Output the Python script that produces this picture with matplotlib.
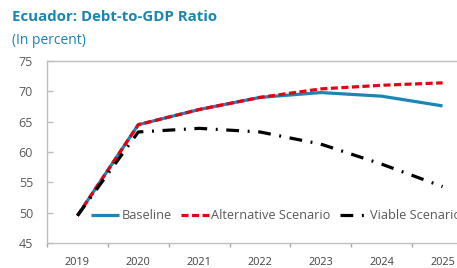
import matplotlib
matplotlib.use("Agg")
import matplotlib.pyplot as plt
import numpy as np

years = ["2019", "2020", "2021", "2022", "2023", "2024", "2025"]
baseline = [49.5, 64.5, 67.0, 69.0, 69.8, 69.2, 67.6]
alternative = [49.5, 64.5, 67.0, 69.0, 70.4, 71.0, 71.4]
viable = [49.5, 63.3, 63.9, 63.3, 61.3, 58.0, 54.3]
yticks = [45, 50, 55, 60, 65, 70, 75]

plt.rcParams['font.family'] = ['Open Sans', 'DejaVu Sans']
fig = plt.figure(figsize=(4.57, 2.68), dpi=100)
ax = fig.add_axes([47/457, 25/268, (473-47)/457, (243-61)/268])

x = np.arange(len(years))
ax.plot(x, baseline, color='#1B86B5', lw=2.3, label='Baseline', solid_capstyle='butt')
ax.plot(x, alternative, color='#E60012', lw=2.3, ls=(0, (2.2, 1.1)), label='Alternative Scenario')
ax.plot(x, viable, color='black', lw=2.3, ls=(0, (4, 2.7, 0.6, 2.7)), label='Viable Scenario')

ax.set_xlim(-0.5, 6.5)
ax.set_ylim(45, 75)
ax.set_yticks(yticks)
ax.set_xticks(x)
ax.set_xticklabels(years)
ax.set_xticks(np.arange(-0.5, 7, 1), minor=True)
ax.tick_params(axis='x', which='major', length=0, pad=10, labelsize=7.8, colors='#404040')
ax.tick_params(axis='x', which='minor', length=3, color='#A6A6A6', width=1)
ax.tick_params(axis='y', direction='in', length=4, width=1, color='#BFBFBF', pad=10,
               labelsize=9, labelcolor='#595959')
for s in ['left', 'bottom', 'top']:
    ax.spines[s].set_color('#BFBFBF')
    ax.spines[s].set_linewidth(1)
ax.spines['right'].set_visible(False)

ax.legend(loc='lower left', bbox_to_anchor=(0.092, 0.085), ncol=3, frameon=False,
          fontsize=9.2, handlelength=2.2, handletextpad=0.15, columnspacing=0.75,
          labelcolor='#595959', borderaxespad=0)

fig.text(12/457, 1 - 17/268, 'Ecuador: Debt-to-GDP Ratio', fontsize=10.8, fontweight='bold',
         color='#1A86B0', va='center', ha='left')
fig.text(12/457, 1 - 40/268, '(In percent)', fontsize=10, color='#1A86B0', va='center', ha='left')

fig.savefig('out.png', dpi=100)
